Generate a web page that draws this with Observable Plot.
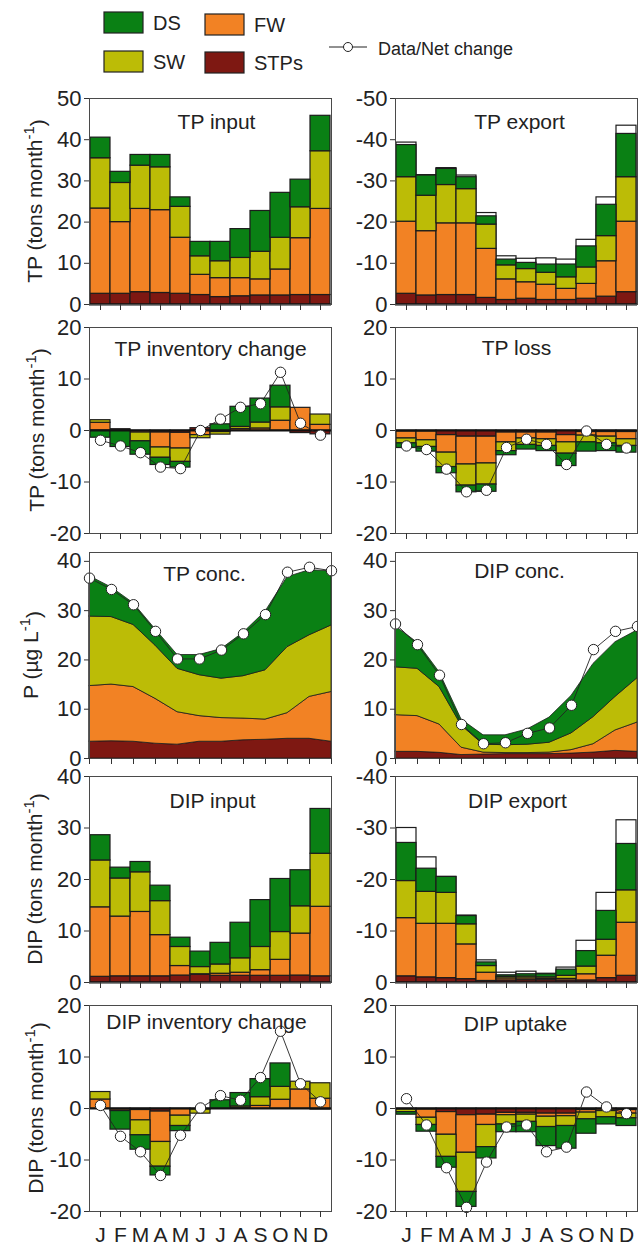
<!DOCTYPE html>
<html><head><meta charset="utf-8">
<script src="https://cdn.jsdelivr.net/npm/d3@7"></script>
<script src="https://cdn.jsdelivr.net/npm/@observablehq/plot@0.6"></script>
<style>
body{margin:0;background:#fff}
#chart{position:relative;width:638px;height:1247px;font-family:"Liberation Sans",Arial,sans-serif;color:#222}
#chart svg{position:absolute}
</style>
</head><body><div id="chart"></div>
<script>
// ---------- categories ----------
const months = ["J","F","M","A","M","J","J","A","S","O","N","D"];
const comps = ["STPs","FW","SW","DS"];
const compColors = ["#7e1812","#f28224","#bcbc06","#0a8014"];

// ---------- TP input (tons/month) ----------
const tpInSTPs = [2.6,2.6,3.0,2.8,2.6,2.3,1.8,2.0,2.2,2.2,2.3,2.3];
const tpInFW   = [20.7,17.4,20.2,20.1,13.6,4.9,4.6,4.4,3.9,6.3,13.8,20.9];
const tpInSW   = [12.2,9.5,10.5,10.4,7.5,4.5,4.1,4.9,6.7,7.7,7.5,14.0];
const tpInDS   = [5.0,2.7,2.6,3.0,2.3,3.5,4.7,7.0,9.9,10.9,6.7,8.6];

// ---------- TP export ----------
const tpExSTPs = [-2.6,-2.2,-2.3,-2.3,-1.6,-1.1,-1.4,-1.1,-1.1,-1.4,-1.9,-3.0];
const tpExFW   = [-17.5,-15.6,-17.4,-17.4,-11.9,-5.0,-4.0,-3.7,-2.7,-3.6,-8.6,-17.1];
const tpExSW   = [-10.8,-8.6,-9.3,-8.3,-5.9,-3.4,-3.2,-2.9,-2.8,-4.0,-6.1,-10.8];
const tpExDS   = [-7.8,-4.9,-3.9,-2.9,-2.0,-1.4,-1.5,-2.0,-3.1,-5.1,-7.6,-10.5];
const tpExData = [-39.3,-31.4,-33.1,-31.3,-22.2,-11.7,-11.1,-11.2,-10.9,-15.7,-26.0,-43.4];

// ---------- TP inventory change ----------
const tpInvSTPs = [0,0.25,0,-0.4,-0.45,0.45,0,0,0,0,-0.5,-0.75];
const tpInvFW   = [1.5,0,-0.4,-2.9,-3.05,-0.9,-0.3,0.3,0.4,1.9,4.4,1.1];
const tpInvSW   = [0.5,0,-1.7,-2.0,-2.6,-0.6,-0.5,0.4,1.15,2.6,0,2.0];
const tpInvDS   = [-1.4,-3.2,-2.6,-1.4,-1.1,0,1.2,3.9,4.65,4.2,0,0];
const tpInvNet  = [-1.9,-3.0,-4.3,-7.1,-7.4,0,2.2,4.5,5.2,11.3,1.4,-0.9];

// ---------- TP loss ----------
const tpLossSTPs = [-0.2,-0.2,-0.9,-1.2,-1.2,-0.4,-0.4,-0.4,-0.9,-0.3,-0.3,-0.3];
const tpLossFW   = [-1.35,-1.7,-3.4,-5.4,-5.2,-1.9,-1.15,-1.3,-1.4,-0.7,-0.9,-1.4];
const tpLossSW   = [-0.95,-1.3,-2.8,-4.1,-4.1,-1.7,-1.25,-1.3,-2.2,-1.3,-1.3,-1.3];
const tpLossDS   = [-0.9,-0.9,-1.2,-1.3,-1.4,-0.8,-0.9,-1.0,-2.4,-1.8,-1.5,-1.3];
const tpLossNet  = [-3.0,-3.7,-7.5,-11.9,-11.6,-3.3,-1.7,-2.7,-6.6,-0.1,-2.7,-3.4];

// ---------- TP conc. (µg/L) ----------
const tpcSTPs = [3.4,3.5,3.4,3.0,2.8,3.4,3.4,3.7,3.8,4.0,4.0,3.4];
const tpcFW   = [11.3,11.5,11.1,9.1,6.6,5.2,4.8,4.4,4.1,5.2,8.5,10.1];
const tpcSW   = [14.1,13.7,12.6,10.8,8.8,8.3,8.0,8.6,10.0,13.4,12.5,13.5];
const tpcDS   = [8.2,6.0,4.4,3.3,2.8,4.1,6.0,8.8,11.9,14.2,13.2,11.0];
const tpcData = [36.6,34.3,31.2,25.8,20.2,20.2,22.0,25.3,29.2,37.8,38.8,38.1];

// ---------- DIP conc. ----------
const dipcSTPs = [1.35,1.35,1.15,0.7,0.8,0.9,0.9,0.9,1.0,1.2,1.55,1.35];
const dipcFW   = [7.45,7.25,5.75,1.5,0.4,0.2,0.2,0.3,0.7,1.7,4.15,5.95];
const dipcSW   = [9.7,9.6,7.6,4.5,1.6,1.6,1.7,2.0,3.4,5.5,6.8,9.0];
const dipcDS   = [8.3,5.3,3.0,1.2,1.9,2.0,3.1,5.1,7.6,10.8,11.1,9.7];
const dipcData = [27.3,23.1,16.9,6.9,3.0,3.2,5.1,6.2,10.8,22.1,25.8,26.8];

// ---------- DIP input ----------
const dipInSTPs = [1.1,1.2,1.2,1.2,1.35,1.5,1.3,1.3,1.3,1.3,1.35,1.2];
const dipInFW   = [13.5,11.6,12.5,8.0,1.85,0.1,0.4,0.6,1.1,3.1,8.15,13.5];
const dipInSW   = [9.1,7.4,7.7,6.6,3.7,1.4,1.8,2.8,4.5,5.4,5.3,10.3];
const dipInDS   = [4.9,2.1,2.0,3.0,1.8,3.0,4.2,6.9,9.1,10.3,7.0,8.7];

// ---------- DIP export ----------
const dipExSTPs = [-1.2,-1.0,-0.85,-0.65,-0.3,-0.4,-0.45,-0.45,-0.4,-0.4,-0.85,-1.3];
const dipExFW   = [-11.3,-10.4,-10.55,-6.75,-1.6,-0.4,-0.35,-0.25,-0.3,-1.2,-4.35,-10.3];
const dipExSW   = [-7.2,-6.2,-6.0,-3.9,-1.3,-0.3,-0.35,-0.3,-0.6,-1.5,-3.1,-6.3];
const dipExDS   = [-7.4,-4.5,-3.1,-1.6,-0.7,-0.3,-0.45,-0.6,-1.2,-3.0,-5.6,-9.0];
const dipExData = [-30.0,-24.3,-20.5,-13.0,-4.3,-1.9,-2.1,-1.7,-2.9,-8.1,-17.4,-31.5];

// ---------- DIP inventory change ----------
const dipInvSTPs = [0,-0.2,-0.3,-0.6,-0.1,0,0,0,0,0,0,-0.2];
const dipInvFW   = [1.75,-0.3,-2.0,-5.9,-1.3,-0.2,0,0.1,0.5,1.7,3.7,1.9];
const dipInvSW   = [1.45,0,-2.9,-4.8,-2.0,-0.8,0,0.3,1.7,2.5,1.5,3.0];
const dipInvDS   = [0,-3.6,-2.8,-1.7,-1.0,0,1.6,2.6,3.5,4.55,0,0];
const dipInvNet  = [0.6,-5.4,-8.4,-13.0,-5.2,0.1,2.5,1.6,6.0,15.0,4.8,1.3];

// ---------- DIP uptake ----------
const dipUpSTPs = [-0.1,-0.2,-0.7,-1.3,-1.2,-0.85,-0.85,-1.0,-1.0,-0.3,-0.2,-0.3];
const dipUpFW   = [-0.1,-1.6,-4.4,-7.3,-2.0,-0.45,-0.35,-0.6,-0.5,-0.5,-0.3,-0.7];
const dipUpSW   = [-0.5,-1.4,-4.3,-7.6,-4.3,-1.8,-1.4,-2.0,-1.9,-1.3,-1.2,-0.9];
const dipUpDS   = [-0.5,-1.3,-2.1,-2.9,-2.2,-1.5,-2.0,-3.7,-4.4,-2.8,-1.4,-1.5];
const dipUpNet  = [1.9,-3.2,-11.5,-19.2,-10.4,-3.6,-3.2,-8.4,-7.5,3.2,0.3,-1.0];

// ---------- helpers ----------
function longRows(series, keepZeros) {
  const rows = [];
  series.forEach((vals, k) => vals.forEach((v, m) => {
    if (keepZeros || v !== 0) rows.push({m, comp: comps[k], v});
  }));
  return rows;
}
function pts(vals) { return vals.map((v, m) => ({m, v})); }

const rowTop = [98, 327, 552, 776, 1005];
const PH = 206;
const FONT = '"Liberation Sans", Arial, sans-serif';
const chart = document.getElementById("chart");

function panel(cfg) {
  const col = cfg.col;
  const svgLeft = col === 0 ? 0 : 332;
  const W = col === 0 ? 332 : 306;
  const ml = col === 0 ? 89 : 63;
  const mt = 14;
  const mb = cfg.bottom ? 36 : 12;
  const isArea = cfg.kind === "area";
  const marks = [];
  if (cfg.white) marks.push(Plot.barY(pts(cfg.white), {x: "m", y: "v", fill: "white", stroke: "#1c1c1c", strokeWidth: 1.2}));
  if (isArea) {
    marks.push(Plot.areaY(longRows(cfg.series, true), {x: "m", y: "v", fill: "comp", stroke: "#1c1c1c", strokeWidth: 0.8, curve: "linear"}));
  } else {
    marks.push(Plot.barY(longRows(cfg.series, false), {x: "m", y: "v", fill: "comp", stroke: "#1c1c1c", strokeWidth: 1.2}));
    marks.push(Plot.ruleY([0], {stroke: "#111", strokeWidth: 2.2}));
  }
  if (cfg.net) {
    marks.push(Plot.line(pts(cfg.net), {x: "m", y: "v", stroke: "#222", strokeWidth: 0.9}));
    marks.push(Plot.dot(pts(cfg.net), {x: "m", y: "v", r: 5.2, fill: "white", stroke: "#222", strokeWidth: 1}));
  }
  marks.push(Plot.frame({stroke: "#4a4a4a", strokeWidth: 1}));
  marks.push(Plot.axisY({ticks: cfg.yTicks, tickSize: 5, tickPadding: 3, fontSize: 22, tickFormat: d => String(d), label: null, stroke: "#333"}));
  marks.push(Plot.axisX({ticks: d3.range(12), tickSize: 6, tickPadding: 10, fontSize: 21,
    tickFormat: cfg.bottom ? (i => months[i]) : (() => ""), label: null, stroke: "#333"}));
  marks.push(Plot.text([cfg.title], {frameAnchor: "top", dy: cfg.titleDy, dx: cfg.titleDx || 0, lineAnchor: "bottom", fontSize: 21, fill: "#222"}));

  const svg = Plot.plot({
    width: W, height: mt + PH + mb,
    marginLeft: ml, marginRight: 1, marginTop: mt, marginBottom: mb,
    style: {fontFamily: FONT, background: "transparent", overflow: "visible", color: "#222"},
    x: isArea ? {type: "point", domain: d3.range(12), padding: 0, axis: null}
              : {type: "band", domain: d3.range(12), padding: 0, axis: null},
    y: {domain: cfg.yDomain, axis: null},
    color: {domain: comps, range: compColors},
    marks
  });
  svg.style.left = svgLeft + "px";
  svg.style.top = (rowTop[cfg.row] - mt) + "px";
  if (cfg.ylabel) {
    const t = d3.select(svg).append("text")
      .attr("transform", `translate(${cfg.ylabelX},${mt + PH / 2}) rotate(-90)`)
      .attr("text-anchor", "middle").attr("font-size", 21).attr("fill", "#222")
      .attr("font-family", FONT);
    t.append("tspan").text(cfg.ylabel);
    t.append("tspan").attr("dy", "-0.55em").attr("font-size", 15).text("-1");
    t.append("tspan").attr("dy", "0.55em").text(")");
  }
  chart.appendChild(svg);
}

const tTP = [0,10,20,30,40,50];
const tEx50 = [0,-10,-20,-30,-40,-50];
const t20 = [-20,-10,0,10,20];
const t40 = [0,10,20,30,40];
const tEx40 = [0,-10,-20,-30,-40];

panel({col:0,row:0,title:"TP input",titleDy:30,titleDx:6,yDomain:[0,50],yTicks:tTP,ylabel:"TP (tons month",ylabelX:42,
  series:[tpInSTPs,tpInFW,tpInSW,tpInDS]});
panel({col:1,row:0,title:"TP export",titleDy:30,titleDx:3,yDomain:[0,-50],yTicks:tEx50,
  series:[tpExSTPs,tpExFW,tpExSW,tpExDS],white:tpExData});
panel({col:0,row:1,title:"TP inventory change",titleDy:28,yDomain:[-20,20],yTicks:t20,ylabel:"TP (tons month",ylabelX:44,
  series:[tpInvSTPs,tpInvFW,tpInvSW,tpInvDS],net:tpInvNet});
panel({col:1,row:1,title:"TP loss",titleDy:27,yDomain:[-20,20],yTicks:t20,
  series:[tpLossSTPs,tpLossFW,tpLossSW,tpLossDS],net:tpLossNet});
panel({col:0,row:2,kind:"area",title:"TP conc.",titleDy:28,titleDx:-6,yDomain:[0,41.8],yTicks:t40,ylabel:"P (µg L",ylabelX:38,
  series:[tpcSTPs,tpcFW,tpcSW,tpcDS],net:tpcData});
panel({col:1,row:2,kind:"area",title:"DIP conc.",titleDy:25,titleDx:3,yDomain:[0,41.8],yTicks:t40,
  series:[dipcSTPs,dipcFW,dipcSW,dipcDS],net:dipcData});
panel({col:0,row:3,title:"DIP input",titleDy:31,titleDx:2,yDomain:[0,40],yTicks:t40,ylabel:"DIP (tons month",ylabelX:42,
  series:[dipInSTPs,dipInFW,dipInSW,dipInDS]});
panel({col:1,row:3,title:"DIP export",titleDy:31,titleDx:1,yDomain:[0,-40],yTicks:tEx40,
  series:[dipExSTPs,dipExFW,dipExSW,dipExDS],white:dipExData});
panel({col:0,row:4,bottom:true,title:"DIP inventory change",titleDy:23,titleDx:-4,yDomain:[-20,20],yTicks:t20,ylabel:"DIP (tons month",ylabelX:43,
  series:[dipInvSTPs,dipInvFW,dipInvSW,dipInvDS],net:dipInvNet});
panel({col:1,row:4,bottom:true,title:"DIP uptake",titleDy:25,titleDx:-1,yDomain:[-20,20],yTicks:t20,
  series:[dipUpSTPs,dipUpFW,dipUpSW,dipUpDS],net:dipUpNet});

// ---------- legend ----------
const leg = d3.select(chart).append("svg").attr("width", 638).attr("height", 85)
  .style("left", "0px").style("top", "0px").attr("font-family", FONT);
const legItems = [
  {name: "DS", x: 104, y: 12, color: compColors[3]},
  {name: "SW", x: 104, y: 51, color: compColors[2]},
  {name: "FW", x: 205, y: 14, color: compColors[1]},
  {name: "STPs", x: 205, y: 52, color: compColors[0]}
];
legItems.forEach(d => {
  leg.append("rect").attr("x", d.x).attr("y", d.y).attr("width", 39).attr("height", 21)
    .attr("fill", d.color).attr("stroke", "#222").attr("stroke-width", 1.2);
  leg.append("text").attr("x", d.x + 49).attr("y", d.y + 18).attr("font-size", 20).attr("fill", "#222").text(d.name);
});
leg.append("line").attr("x1", 329).attr("x2", 367).attr("y1", 47).attr("y2", 47).attr("stroke", "#222").attr("stroke-width", 1);
leg.append("circle").attr("cx", 348).attr("cy", 47).attr("r", 4.5).attr("fill", "white").attr("stroke", "#222");
leg.append("text").attr("x", 378).attr("y", 55).attr("font-size", 18).attr("fill", "#222").text("Data/Net change");
</script>
</body></html>
